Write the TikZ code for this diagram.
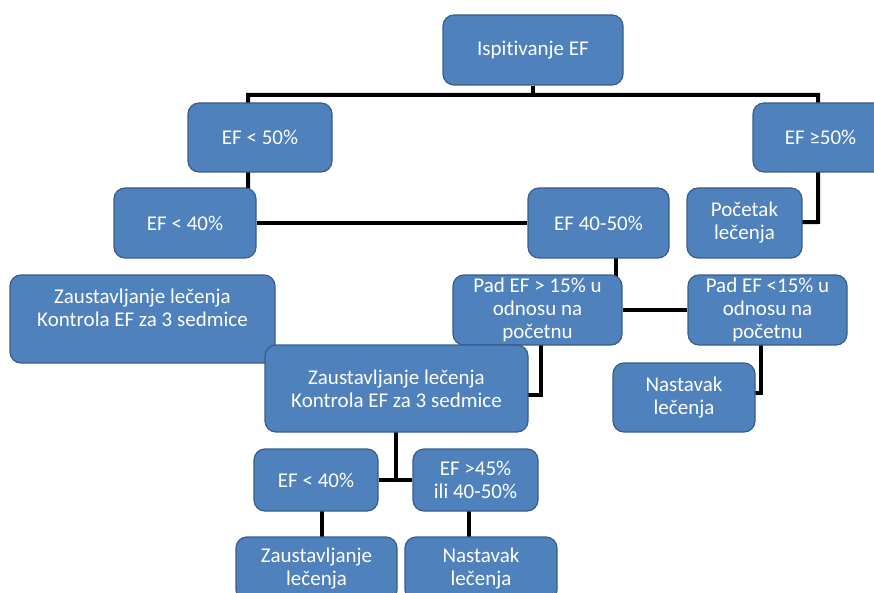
\documentclass[tikz,border=0pt]{standalone}
\usepackage{fontspec}
\setmainfont{Carlito}[Ligatures={NoCommon,NoContextual},Contextuals=NoAlternate]
\usetikzlibrary{backgrounds}
\definecolor{boxfill}{RGB}{79,129,189}
\definecolor{boxline}{RGB}{56,93,138}

\begin{document}
\begin{tikzpicture}[x=1pt, y=-1pt,
  box/.style={draw=boxline, fill=boxfill, line width=1.2pt, rectangle, rounded corners=11pt, align=center, text=white, inner sep=2pt, font=\fontsize{21}{23}\selectfont},
  conn/.style={draw=black, line width=4pt}
]
\useasboundingbox (0,0) rectangle (874,593);

\node[box, minimum width=180pt, minimum height=70pt] (ispit) at (533,50) {Ispitivanje EF};
\node[box, minimum width=144pt, minimum height=69pt] (ef50) at (260,137.5) {EF < 50\%};
\node[box, minimum width=135pt, minimum height=69pt] (efge50) at (820.5,137.5) {EF ≥50\%};
\node[box, minimum width=142pt, minimum height=70pt] (ef40) at (185,223) {EF < 40\%};
\node[box, minimum width=141pt, minimum height=70pt] (ef4050) at (598.5,223) {EF 40-50\%};
\node[box, minimum width=115pt, minimum height=70pt] (pocetak) at (744.5,223) {Početak\\lečenja};
\node[box, minimum width=265pt, minimum height=88pt] (stopA) at (142.5,319) {Zaustavljanje lečenja\\Kontrola EF za 3 sedmice\\\mbox{}};
\node[box, minimum width=169pt, minimum height=70pt] (padgt) at (537.5,310) {Pad EF > 15\% u\\odnosu na\\početnu};
\node[box, minimum width=159pt, minimum height=70pt] (padlt) at (767.5,310) {Pad EF <15\% u\\odnosu na\\početnu};
\node[box, minimum width=263pt, minimum height=87pt] (stopB) at (396.5,388.5) {Zaustavljanje lečenja\\Kontrola EF za 3 sedmice};
\node[box, minimum width=142pt, minimum height=69pt] (contA) at (684,397.5) {Nastavak\\lečenja};
\node[box, minimum width=124pt, minimum height=62pt] (ef40b) at (316,480) {EF < 40\%};
\node[box, minimum width=125pt, minimum height=62pt] (ef45) at (475.5,480) {EF >45\%\\ili 40-50\%};
\node[box, minimum width=161pt, minimum height=64pt] (stopC) at (316.5,569) {Zaustavljanje\\lečenja};
\node[box, minimum width=152pt, minimum height=64pt] (contB) at (481,569) {Nastavak\\lečenja};

% junctions
\coordinate (j0) at (533,95);
\coordinate (jl) at (248,95);
\coordinate (jr) at (818,95);
\coordinate (jp) at (818,222);
\coordinate (j4050) at (616,266);
\coordinate (jgt) at (541,395);
\coordinate (jlt) at (761,393);
\coordinate (jstop) at (396,480);
\coordinate (jc) at (322,524);
\coordinate (jn) at (469,524);

\begin{scope}[on background layer]
\draw[conn] (ispit) -- (j0);
\draw[conn] (jl |- ef40.center) -- (jl) -- (jr) -- (jp) -- (pocetak.center);
\draw[conn] (ef40) -- (ef4050);
\draw[conn] (ef4050.center -| j4050) -- (padgt.center -| j4050);
\draw[conn] (padgt) -- (padlt);
\draw[conn] (padgt.center -| jgt) -- (jgt) -- (stopB.center |- jgt);
\draw[conn] (padlt.center -| jlt) -- (jlt) -- (contA.center |- jlt);
\draw[conn] (stopB.center -| jstop) -- (jstop);
\draw[conn] (ef40b) -- (ef45);
\draw[conn] (ef40b.center -| jc) -- (stopC.center -| jc);
\draw[conn] (ef45.center -| jn) -- (contB.center -| jn);
\end{scope}
\end{tikzpicture}
\end{document}
